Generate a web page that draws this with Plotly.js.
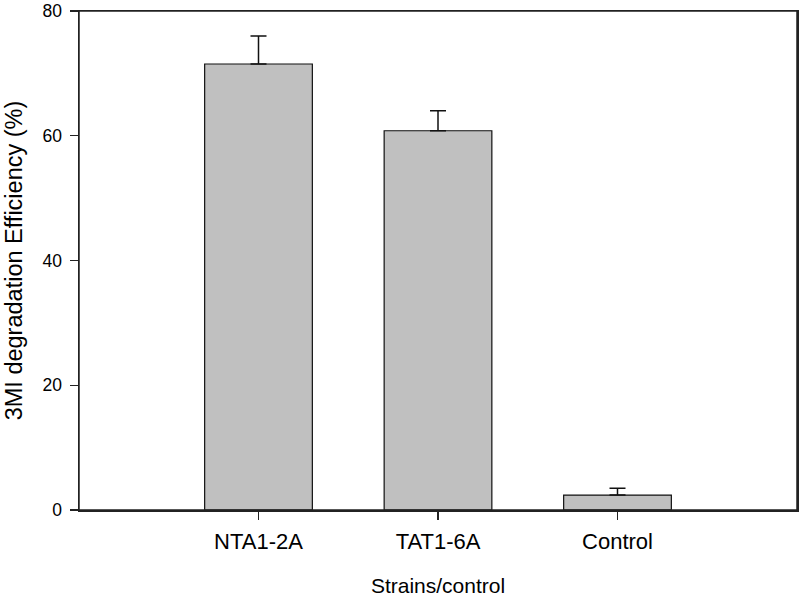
<!DOCTYPE html>
<html>
<head>
<meta charset="utf-8">
<script src="https://cdn.plot.ly/plotly-3.0.1.min.js"></script>
<style>html,body{margin:0;padding:0;background:#fff;}#chart{width:800px;height:597px;}</style>
</head>
<body>
<div id="chart"></div>
<script>
const categories = ["NTA1-2A", "TAT1-6A", "Control"];
const efficiency = [71.5, 60.8, 2.4];
const errorPlus = [4.5, 3.2, 1.1];
const errorMinus = [0, 0, 0];
const yTicks = [0, 20, 40, 60, 80];

const trace = {
  type: "bar",
  x: categories,
  y: efficiency,
  width: 0.6,
  marker: {color: "#c0c0c0", line: {color: "#111", width: 1.2}},
  error_y: {type: "data", symmetric: false, array: errorPlus, arrayminus: errorMinus,
            color: "#111", thickness: 1.5, width: 8},
  hoverinfo: "skip"
};

const fontFam = "Liberation Sans, Arial, sans-serif";
const layout = {
  width: 800, height: 597,
  margin: {l: 79, r: 3, t: 11, b: 87, autoexpand: false},
  paper_bgcolor: "#fff", plot_bgcolor: "#fff",
  showlegend: false,
  bargap: 0.4,
  xaxis: {
    type: "category",
    range: [-1, 3],
    showline: true, linecolor: "#222", linewidth: 1.5, mirror: true,
    ticks: "outside", ticklen: 8, tickwidth: 1.2, tickcolor: "#222",
    showgrid: false, zeroline: false, automargin: false,
    tickfont: {family: fontFam, size: 22, color: "#000"},
    ticklabelstandoff: 3,
    title: {text: "Strains/control", font: {family: fontFam, size: 21, color: "#000"}, standoff: 28}
  },
  yaxis: {
    range: [0, 80.001],
    tickvals: yTicks, ticktext: yTicks.map(String),
    showline: true, linecolor: "#222", linewidth: 1.5, mirror: true,
    ticks: "outside", ticklen: 8, tickwidth: 1.2, tickcolor: "#222",
    showgrid: false, zeroline: false, automargin: false,
    ticklabeloverflow: "allow",
    tickfont: {family: fontFam, size: 17.5, color: "#000"},
    ticklabelstandoff: 4,
    title: {text: "3MI degradation Efficiency (%)", font: {family: fontFam, size: 23.5, color: "#000"}, standoff: 13}
  },
  shapes: [{type: "rect", xref: "paper", yref: "paper", x0: 0, x1: 1, y0: 0, y1: 1,
            line: {color: "#222", width: 1.5}, fillcolor: "rgba(0,0,0,0)", layer: "above"}]
};

Plotly.newPlot("chart", [trace], layout, {displayModeBar: false, staticPlot: true});
</script>
</body>
</html>
